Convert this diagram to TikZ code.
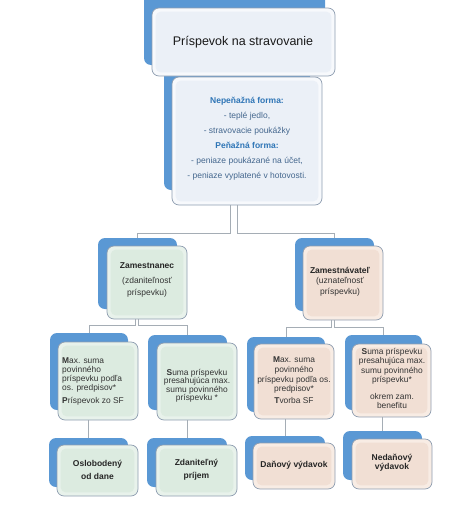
\documentclass[tikz,border=0pt]{standalone}
\usepackage{fontspec}
\setmainfont{Liberation Sans}
\definecolor{backblue}{HTML}{5A98D4}
\definecolor{frameg}{HTML}{8E9DB0}
\definecolor{lineg}{HTML}{A5ADB5}
\definecolor{topout}{HTML}{F7F9FC}
\definecolor{topin}{HTML}{EBF0F7}
\definecolor{grout}{HTML}{E8F2EB}
\definecolor{grin}{HTML}{DCEBE0}
\definecolor{peout}{HTML}{F8ECE4}
\definecolor{pein}{HTML}{F1DFD4}
\definecolor{headc}{HTML}{2E75B6}
\definecolor{itemc}{HTML}{44678E}
\definecolor{txtc}{HTML}{333333}
\newcommand{\mkbox}[6]{\node[#1, minimum width={#5-#3}, minimum height={#6-#4}] (#2) at ({(#3+#5)/2},{(#4+#6)/2}) {};}
\newcommand{\mkinner}[2]{\fill[#1, rounded corners=5pt] ([shift={(4,4)}]#2.north west) rectangle ([shift={(-4,-4)}]#2.south east);}
\begin{document}
\begin{tikzpicture}[x=1pt,y=-1pt,
  back/.style={fill=backblue, draw=none, rounded corners=7pt, inner sep=0pt},
  front/.style={draw=frameg, line width=0.7pt, rounded corners=7pt, inner sep=0pt},
  conn/.style={draw=lineg, line width=0.8pt},
  smallt/.style={font=\fontsize{8.4}{9}\selectfont, text=txtc, inner sep=0pt},
  boldt/.style={font=\fontsize{8.5}{13}\selectfont\bfseries, text=black!85, inner sep=0pt, align=center}
]
\useasboundingbox (0,0) rectangle (474,509);
\clip (0,0) rectangle (474,509);
% back (blue) boxes
\mkbox{back}{topB}{144}{-10}{325}{65}
\mkbox{back}{midB}{164}{69}{310}{190}
\mkbox{back}{zamB}{98}{238}{177}{309}
\mkbox{back}{zavB}{295}{238}{374}{311}
\mkbox{back}{AB}{50}{333}{128}{410}
\mkbox{back}{BB}{148}{335}{227}{410}
\mkbox{back}{CB}{247}{337}{325}{412}
\mkbox{back}{DB}{345}{335}{422}{410}
\mkbox{back}{EB}{49}{438}{128}{487}
\mkbox{back}{FB}{147}{438}{227}{487}
\mkbox{back}{GB}{245}{436}{325}{480}
\mkbox{back}{HB}{343}{431}{422}{480}
% front boxes
\mkbox{front, fill=topout}{top}{152}{8}{335}{76}
\mkinner{topin}{top}
\mkbox{front, fill=topout}{mid}{172}{77}{322}{205}
\mkinner{topin}{mid}
\mkbox{front, fill=grout}{zam}{107}{246}{187}{319}
\mkinner{grin}{zam}
\mkbox{front, fill=peout}{zav}{303}{246}{383}{320}
\mkinner{pein}{zav}
\mkbox{front, fill=grout}{A}{58}{342}{138}{420}
\mkinner{grin}{A}
\mkbox{front, fill=grout}{B}{157}{343}{237}{420}
\mkinner{grin}{B}
\mkbox{front, fill=peout}{C}{254}{344}{334}{419}
\mkinner{pein}{C}
\mkbox{front, fill=peout}{D}{352}{344}{431}{417}
\mkinner{pein}{D}
\mkbox{front, fill=grout}{E}{57}{445}{138}{496}
\mkinner{grin}{E}
\mkbox{front, fill=grout}{F}{156}{445}{237}{496}
\mkinner{grin}{F}
\mkbox{front, fill=peout}{G}{253}{443}{335}{489}
\mkinner{pein}{G}
\mkbox{front, fill=peout}{H}{352}{439}{432}{489}
\mkinner{pein}{H}
% connectors
\coordinate (j1l) at (230,233);
\coordinate (j1r) at (237,233);
\draw[conn] (j1l |- mid.south) -- (j1l) -| (zamB.north);
\draw[conn] (j1r |- mid.south) -- (j1r) -| (zavB.north);
\coordinate (j2l) at (135,325);
\coordinate (j2r) at (138.5,325);
\draw[conn] (j2l |- zam.south) -- (j2l) -| (AB.north);
\draw[conn] (j2r |- zam.south) -- (j2r) -| (BB.north);
\coordinate (j3l) at (331,327);
\coordinate (j3r) at (334.5,327);
\draw[conn] (j3l |- zav.south) -- (j3l) -| (CB.north);
\draw[conn] (j3r |- zav.south) -- (j3r) -| (DB.north);
\draw[conn] (A.south -| EB.north) -- (EB.north);
\draw[conn] (B.south -| FB.north) -- (FB.north);
\draw[conn] (C.south -| GB.north) -- (GB.north);
\draw[conn] (D.south -| HB.north) -- (HB.north);
% texts
\node[font=\fontsize{12.5}{14}\selectfont, text=black!90, inner sep=0pt] (tTop) at (243,42) {Príspevok na stravovanie};
\node[align=center, font=\fontsize{8.5}{15}\selectfont, text=itemc, inner sep=0pt] (tMid) at (247,138.5)
  {\textcolor{headc}{\textbf{Nepeňažná forma:}}\\ - teplé jedlo,\\ - stravovacie poukážky\\ \textcolor{headc}{\textbf{Peňažná forma:}}\\ - peniaze poukázané na účet,\\ - peniaze vyplatené v hotovosti.};
\node[align=center, font=\fontsize{8.5}{12}\selectfont, text=txtc, inner sep=0pt] (tZam) at (147,280)
  {\textcolor{black!85}{\textbf{Zamestnanec}}\\[3pt] (zdaniteľnosť\\ príspevku)};
\node[align=center, font=\fontsize{8.5}{10.5}\selectfont, text=txtc, inner sep=0pt] (tZav) at (340,281.5)
  {\textcolor{black!85}{\textbf{Zamestnávateľ}}\\ (uznateľnosť\\ príspevku)};
\node[smallt, align=left, anchor=west] (tA) at (62,381.5)
  {\textbf{M}ax. suma\\ povinného\\ príspevku podľa\\ os. predpisov*\\[4.5pt] \textbf{P}ríspevok zo SF};
\node[smallt, align=center, font=\fontsize{8.4}{8.5}\selectfont] (tB) at (197,386)
  {\textbf{S}uma príspevku\\ presahujúca max.\\ sumu povinného\\ príspevku *};
\node[smallt, align=center, font=\fontsize{8.4}{9.7}\selectfont] (tC) at (294,380)
  {\textbf{M}ax. suma\\ povinného\\ príspevku podľa os.\\ predpisov*\\[1.5pt] \textbf{T}vorba SF};
\node[smallt, align=center, font=\fontsize{8.4}{9.5}\selectfont] (tD) at (392,378.5)
  {\textbf{S}uma príspevku\\ presahujúca max.\\ sumu povinného\\ príspevku*\\[7pt] okrem zam.\\ benefitu};
\node[boldt] (tE) at (97.5,469.5) {Oslobodený\\ od dane};
\node[boldt] (tF) at (196.5,469.5) {Zdaniteľný\\ príjem};
\node[boldt] (tG) at (294,465) {Daňový výdavok};
\node[boldt, font=\fontsize{8.5}{9.5}\selectfont\bfseries] (tH) at (392,462.5) {Nedaňový\\ výdavok};
\end{tikzpicture}
\end{document}
